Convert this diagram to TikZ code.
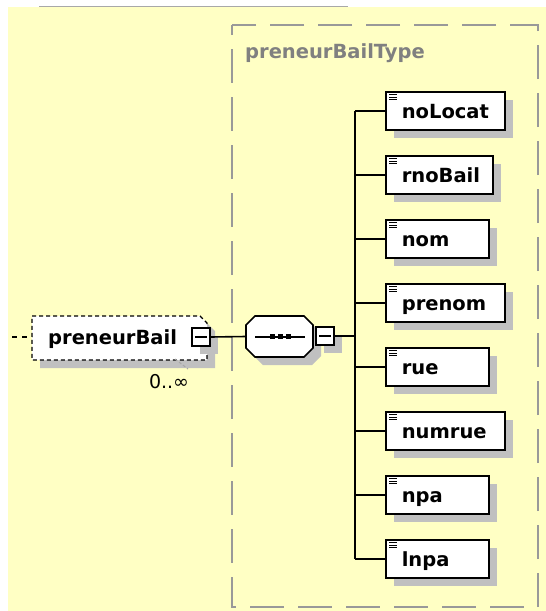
\documentclass[tikz,border=0pt]{standalone}
\usepackage{fontspec}
\setmainfont{DejaVu Sans}
\usetikzlibrary{shadows}
\definecolor{bgy}{HTML}{FFFFC4}
\definecolor{shadc}{HTML}{C0C0C0}
\definecolor{tgray}{HTML}{808080}
\definecolor{dgray}{HTML}{999999}
\definecolor{lgray}{HTML}{A8A8A8}
\tikzset{
 sh/.style={drop shadow={shadow xshift=8pt,shadow yshift=-8pt,fill=shadc,opacity=1}},
 bigfont/.style={font=\fontsize{19.5}{22}\selectfont\bfseries},
 elem/.style={draw=black,line width=1.6pt,fill=white,sh,minimum height=38pt,inner xsep=0pt,inner ysep=0pt,
   anchor=west,align=left,text height=14pt,text depth=0pt,bigfont},
 conn/.style={line width=1.6pt,black},
 minusbox/.style={draw=black,line width=1.4pt,fill=white,sh,minimum size=18pt,inner sep=0pt},
 icon/.style={line width=1.2pt,black},
}
\begin{document}
\begin{tikzpicture}[x=1pt,y=-1pt]
\useasboundingbox (0,0) rectangle (546,611);
\fill[white] (0,0) rectangle (546,611);
\fill[bgy] (8,7) rectangle (546,611);
\draw[lgray,line width=1.5pt] (39,6.5) -- (348,6.5);

% type box
\draw[dgray,line width=2pt,dash pattern=on 34pt off 14pt,dash phase=24pt] (232,25) rectangle (538,607);
\node[anchor=west,text=tgray,bigfont,inner sep=0pt,text height=14pt,text depth=0pt] (title) at (245,51) {preneurBailType};

% preneurBail element (dashed, optional)
\fill[shadc] (40,324) -- (208,324) -- (215,331) -- (215,368) -- (40,368) -- cycle;
\draw[fill=white,line width=1.4pt,dash pattern=on 4pt off 3pt] (32,316) -- (200,316) -- (207,323) -- (207,360) -- (32,360) -- cycle;
\node[anchor=west,inner sep=0pt,bigfont,text height=14pt,text depth=0pt] (pb) at (48,337) {preneurBail};
\coordinate (pbw) at (32,337);
\coordinate (lin) at (12,337);
\draw[line width=1.4pt,dash pattern=on 5pt off 5pt] (lin) -- (pbw);
\node[minusbox] (pbm) at (201,337) {};
\draw[icon] ([xshift=4pt]pbm.west) -- ([xshift=-4pt]pbm.east);
\draw[gray!70,line width=1pt,dash pattern=on 3pt off 2pt] (175,359) -- (188,369);
\node[inner sep=0pt,font=\fontsize{19}{21}\selectfont] (occ) at (169,382) {0..∞};

% sequence compositor
\node[inner sep=0pt,minimum width=67pt,minimum height=41pt] (seq) at (279.5,336.5) {};
\fill[shadc] (263,324) -- (312,324) -- (321,333) -- (321,356) -- (312,365) -- (263,365) -- (254,356) -- (254,333) -- cycle;
\draw[fill=white,line width=1.6pt] (255,316) -- (304,316) -- (313,325) -- (313,348) -- (304,357) -- (255,357) -- (246,348) -- (246,325) -- cycle;
\draw[line width=2pt] (255,336.5) -- (305,336.5);
\foreach \xx in {272,280,288} \fill (\xx-2.5,334) rectangle (\xx+2.5,339);
\node[minusbox] (seqm) at (325,336) {};
\draw[icon] ([xshift=4pt]seqm.west) -- ([xshift=-4pt]seqm.east);
\draw[conn] (pbm.east) -- (seq.west);
\coordinate (spine) at (355,336);
\draw[conn] (seqm.east) -- (spine);

% child elements
\node[elem,text width=119pt] (e1) at (385,111) {\hspace*{16pt}noLocat};
\node[elem,text width=107pt] (e2) at (385,175) {\hspace*{16pt}rnoBail};
\node[elem,text width=103pt] (e3) at (385,239) {\hspace*{16pt}nom};
\node[elem,text width=119pt] (e4) at (385,303) {\hspace*{16pt}prenom};
\node[elem,text width=103pt] (e5) at (385,367) {\hspace*{16pt}rue};
\node[elem,text width=119pt] (e6) at (385,431) {\hspace*{16pt}numrue};
\node[elem,text width=103pt] (e7) at (385,495) {\hspace*{16pt}npa};
\node[elem,text width=103pt] (e8) at (385,559) {\hspace*{16pt}lnpa};
\draw[conn] (e1.west -| spine) -- (e8.west -| spine);
\foreach \i in {1,...,8} {
  \draw[conn] (e\i.west) -- (e\i.west -| spine);
  \foreach \dy in {3.5,6,8.5}
    \draw[icon] ([xshift=4pt,yshift=-\dy pt]e\i.north west) -- ++(8,0);
}
\end{tikzpicture}
\end{document}
